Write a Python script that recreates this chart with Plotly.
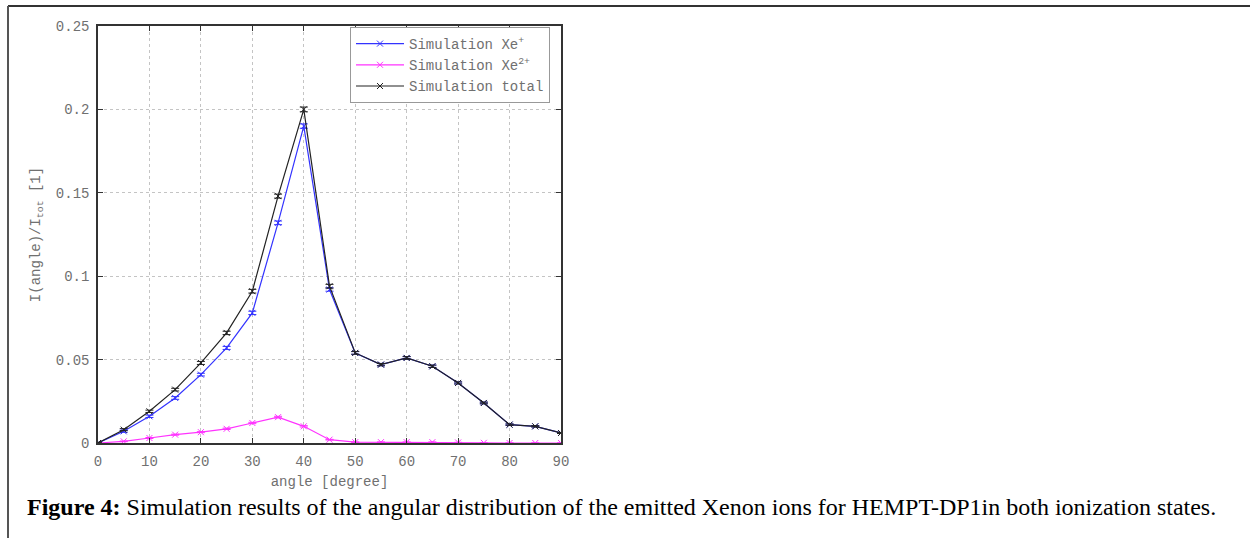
import plotly.graph_objects as go

angles = [0, 5, 10, 15, 20, 25, 30, 35, 40, 45, 50, 55, 60, 65, 70, 75, 80, 85, 90]
xe1 = [0.000, 0.007, 0.016, 0.027, 0.041, 0.057, 0.078, 0.132, 0.190, 0.092, 0.054, 0.047, 0.051, 0.046, 0.036, 0.024, 0.011, 0.010, 0.006]
xe2 = [0.000, 0.001, 0.003, 0.005, 0.0065, 0.0085, 0.012, 0.0155, 0.010, 0.002, 0.0005, 0.0005, 0.0005, 0.0005, 0.0003, 0.0001, 0.0, 0.0, 0.0]
total = [0.000, 0.008, 0.019, 0.032, 0.048, 0.066, 0.091, 0.148, 0.200, 0.094, 0.054, 0.047, 0.051, 0.046, 0.036, 0.024, 0.011, 0.010, 0.006]
err1 = [0.0004, 0.0006, 0.0007, 0.0008, 0.0008, 0.0009, 0.0010, 0.0011, 0.0013, 0.0010, 0.0008, 0.0007, 0.0008, 0.0007, 0.0006, 0.0005, 0.0004, 0.0004, 0.0003]
err2 = [0.0001, 0.0002, 0.0003, 0.0003, 0.0003, 0.0004, 0.0004, 0.0005, 0.0004, 0.0002, 0.0001, 0.0001, 0.0001, 0.0001, 0.0001, 0.0001, 0.0001, 0.0001, 0.0001]
errt = [0.0004, 0.0006, 0.0007, 0.0008, 0.0009, 0.0010, 0.0011, 0.0012, 0.0014, 0.0011, 0.0008, 0.0007, 0.0008, 0.0007, 0.0006, 0.0005, 0.0004, 0.0004, 0.0003]

x_ticks = list(range(0, 91, 10))
y_ticks = [0, 0.05, 0.1, 0.15, 0.2, 0.25]
y_tick_labels = ["0", "0.05", "0.1", "0.15", "0.2", "0.25"]

mono = "Liberation Mono, DejaVu Sans Mono, monospace"
gray = "#707070"

W, H = 1250, 538
L, R, T, B = 98, 561, 26, 443

def px_x(p):
    return (p - L) / (R - L)

def px_y(p):
    return (B - p) / (B - T)

fig = go.Figure()

series = [
    ("Simulation Xe<sup>+</sup>", xe1, err1, "#3333ff"),
    ("Simulation Xe<sup>2+</sup>", xe2, err2, "#ff33ff"),
    ("Simulation total", total, errt, "#222222"),
]
for name, ys, es, col in series:
    fig.add_trace(go.Scatter(
        x=angles, y=ys, name=name, mode="lines+markers",
        line=dict(color=col, width=1.2),
        marker=dict(symbol="x-thin-open", size=6, color=col, line=dict(width=1, color=col)),
        error_y=dict(type="data", array=es, visible=True, color=col, thickness=1, width=4),
    ))

# outer frame lines of the figure box
fig.add_shape(type="line", xref="paper", yref="paper",
              x0=px_x(8), x1=px_x(1250), y0=px_y(6), y1=px_y(6),
              line=dict(color="#333333", width=2))
fig.add_shape(type="line", xref="paper", yref="paper",
              x0=px_x(8), x1=px_x(8), y0=px_y(6), y1=px_y(540),
              line=dict(color="#555555", width=2))

fig.add_annotation(
    xref="paper", yref="paper", x=px_x(25), y=px_y(507), xanchor="left", yanchor="middle",
    text="<b>Figure 4:</b> Simulation results of the angular distribution of the emitted Xenon ions for HEMPT-DP1in both ionization states.",
    showarrow=False, font=dict(family="Liberation Serif, Times New Roman, serif", size=24, color="#000000"),
)

axis_common = dict(
    showline=True, linecolor="#333333", linewidth=1.5, mirror="ticks",
    ticks="inside", ticklen=5, tickcolor="#333333",
    showgrid=True, gridcolor="#c4c4c4", griddash="dot", gridwidth=1,
    zeroline=False, tickfont=dict(family=mono, size=14, color=gray),
    ticklabelstandoff=4,
)

fig.update_xaxes(range=[0, 90], tickvals=x_ticks, **axis_common,
                 title=dict(text="angle [degree]", font=dict(family=mono, size=14, color=gray), standoff=8))
fig.update_yaxes(range=[0, 0.25], tickvals=y_ticks, ticktext=y_tick_labels, **axis_common,
                 title=dict(text="I(angle)/I<sub>tot</sub> [1]", font=dict(family=mono, size=14, color=gray), standoff=12))

fig.update_layout(
    width=W, height=H,
    margin=dict(l=L, r=W - R, t=T, b=H - B, pad=0),
    paper_bgcolor="white", plot_bgcolor="white",
    showlegend=True,
    legend=dict(x=px_x(350), y=px_y(27), xanchor="left", yanchor="top",
                bgcolor="white", bordercolor="#999999", borderwidth=1,
                font=dict(family=mono, size=14, color=gray),
                tracegroupgap=0, itemwidth=48),
)

fig.write_html("out.html")
